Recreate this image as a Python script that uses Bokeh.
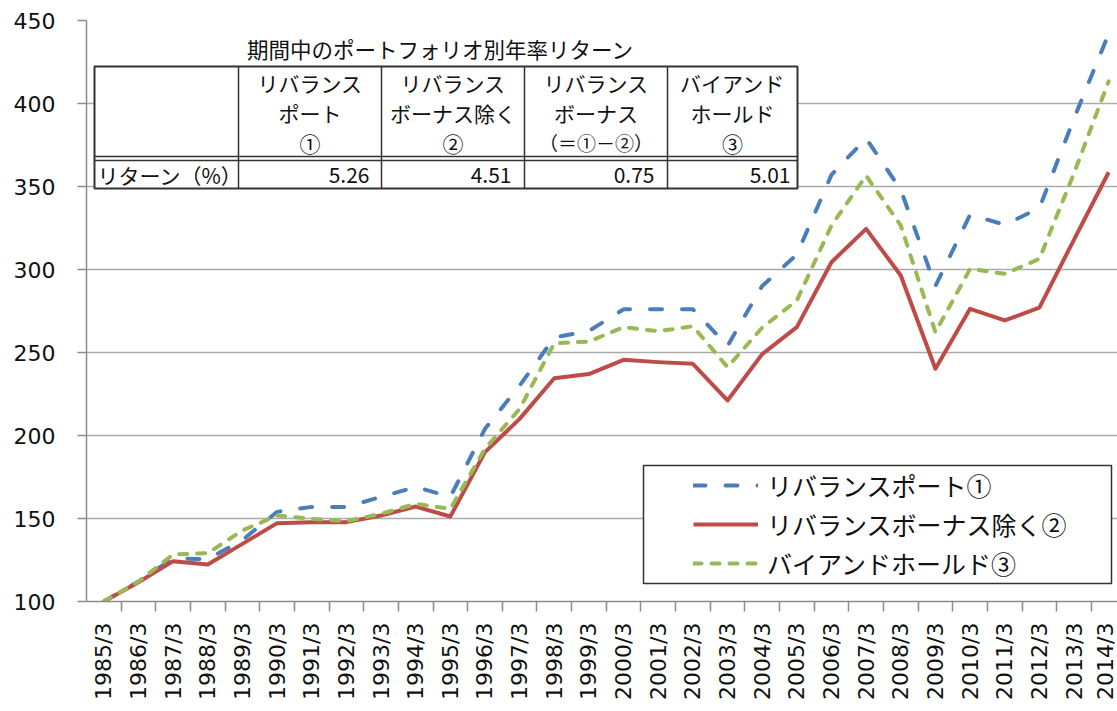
import math
from bokeh.plotting import figure
from bokeh.models import FixedTicker, Label, Legend, LegendItem, Range1d
from bokeh.embed import file_html
from bokeh.resources import INLINE

# ---------------- data ----------------
years = ["1985/3", "1986/3", "1987/3", "1988/3", "1989/3", "1990/3", "1991/3",
         "1992/3", "1993/3", "1994/3", "1995/3", "1996/3", "1997/3", "1998/3",
         "1999/3", "2000/3", "2001/3", "2002/3", "2003/3", "2004/3", "2005/3",
         "2006/3", "2007/3", "2008/3", "2009/3", "2010/3", "2011/3", "2012/3",
         "2013/3", "2014/3"]

rebalance = [100, 112, 126, 125.5, 137, 154, 157, 157, 163, 169, 163, 204, 230,
             259, 263, 276, 276, 276, 254, 290, 309, 357, 379, 348, 290, 333,
             327, 337, 391, 442]

rebalance_ex_bonus = [100, 111.6, 124.3, 122.3, 134.7, 147.2, 147.8, 147.8, 151.8,
                      157.2, 151.2, 190, 210, 234.5, 237, 245.6, 244.2, 243.2, 221.1,
                      249, 265.3, 304.4, 324.5, 296.4, 240.2, 276.3, 269.3, 277, 318,
                      358.6]

buy_and_hold = [100, 112, 128.3, 129.1, 142.8, 151.8, 149.8, 148.4, 152.8, 158.8,
                155.8, 192, 216, 255.6, 256.6, 265.3, 262.8, 265.8, 241.2, 265,
                281.3, 326.5, 356.6, 326.5, 262.2, 300.4, 297.4, 306.4, 358, 413.4]

series_names = ["リバランスポート①", "リバランスボーナス除く②", "バイアンドホールド③"]

y_ticks = [100, 150, 200, 250, 300, 350, 400, 450]

table_title = "期間中のポートフォリオ別年率リターン"
table_headers = [["リバランス", "ポート", "①"],
                 ["リバランス", "ボーナス除く", "②"],
                 ["リバランス", "ボーナス", "（＝①－②）"],
                 ["バイアンド", "ホールド", "③"]]
row_label = "リターン（%）"
returns = ["5.26", "4.51", "0.75", "5.01"]

# ---------------- layout helpers (page px -> data coords) ----------------
FRAME_LEFT = 86.0
CAT_PX = 34.65
FRAME_TOP = 20.0
UNIT_PX = 581.0 / 350.0


def xd(px):
    return -0.5 + (px - FRAME_LEFT) / CAT_PX


def yd(py):
    return 450 - (py - FRAME_TOP) / UNIT_PX


xs = list(range(len(years)))

p = figure(width=1117, height=710, output_backend="svg", toolbar_location=None,
           x_range=Range1d(-0.5, xd(1117)), y_range=Range1d(100, 450),
           min_border_left=86, min_border_right=0, min_border_top=20,
           min_border_bottom=109)
p.outline_line_color = None
p.background_fill_color = "white"
p.border_fill_color = "white"

AX = "#8c8c8c"
# y axis
p.yaxis.ticker = FixedTicker(ticks=y_ticks)
p.yaxis.major_tick_out = 9
p.yaxis.major_tick_in = 0
p.yaxis.minor_tick_out = 0
p.yaxis.minor_tick_in = 0
p.yaxis.axis_line_color = AX
p.yaxis.axis_line_width = 1.5
p.yaxis.major_tick_line_color = AX
p.yaxis.major_tick_line_width = 1.5
p.yaxis.major_label_standoff = 22
p.yaxis.major_label_text_font = "DejaVu Sans"
p.yaxis.major_label_text_font_size = "22px"
p.yaxis.major_label_text_color = "#111111"

# x axis (labels at category centres, ticks between categories)
p.xaxis.ticker = FixedTicker(ticks=xs, minor_ticks=[i + 0.5 for i in xs[:-1]])
p.xaxis.major_label_overrides = {i: years[i] for i in xs}
p.xaxis.major_label_orientation = math.pi / 2
p.xaxis.major_tick_out = 0
p.xaxis.major_tick_in = 0
p.xaxis.minor_tick_out = 10
p.xaxis.minor_tick_in = 0
p.xaxis.minor_tick_line_color = AX
p.xaxis.minor_tick_line_width = 1.5
p.xaxis.axis_line_color = AX
p.xaxis.axis_line_width = 1.5
p.xaxis.major_label_standoff = 11
p.xaxis.major_label_text_font = "DejaVu Sans"
p.xaxis.major_label_text_font_size = "22px"
p.xaxis.major_label_text_color = "#111111"

p.xgrid.visible = False
p.ygrid.grid_line_color = "#ababab"
p.ygrid.grid_line_width = 1.5

# ---------------- table ----------------
t_left, t_right, t_top, t_bottom = 94, 797, 66, 188
col_x = [94, 238, 381, 524, 667, 797]
p.quad(left=[xd(t_left)], right=[xd(t_right)], top=[yd(t_top)], bottom=[yd(t_bottom)],
       fill_color="white", line_color="#333333", line_width=2)
p.segment(x0=[xd(c) for c in col_x[1:-1]], x1=[xd(c) for c in col_x[1:-1]],
          y0=[yd(t_top)] * 4, y1=[yd(t_bottom)] * 4,
          line_color="#333333", line_width=1.5)
p.segment(x0=[xd(t_left)] * 2, x1=[xd(t_right)] * 2,
          y0=[yd(156), yd(160)], y1=[yd(156), yd(160)],
          line_color="#333333", line_width=1.3)

JP = "Noto Sans CJK JP"
p.add_layout(Label(x=xd(440), y=yd(48), text=table_title, text_align="center",
                   text_baseline="middle", text_font=JP, text_font_size="21.5px",
                   text_color="#111111"))
row_y = [82, 112, 142]
for ci, lines in enumerate(table_headers):
    cx = (col_x[ci + 1] + col_x[ci + 2]) / 2
    for ri, txt in enumerate(lines):
        size = "19px" if txt.startswith("（") else "21px"
        p.add_layout(Label(x=xd(cx), y=yd(row_y[ri]), text=txt, text_align="center",
                           text_baseline="middle", text_font=JP, text_font_size=size,
                           text_color="#111111"))
p.add_layout(Label(x=xd(97), y=yd(174), text=row_label, text_align="left",
                   text_baseline="middle", text_font=JP, text_font_size="21px",
                   text_color="#111111"))
val_right = [369, 511, 654, 790]
for vx, v in zip(val_right, returns):
    p.add_layout(Label(x=xd(vx), y=yd(174), text=v, text_align="right",
                       text_baseline="middle", text_font=JP, text_font_size="21px",
                       text_color="#111111"))

# ---------------- legend box ----------------
p.quad(left=[xd(643)], right=[xd(1111)], top=[yd(465)], bottom=[yd(583)],
       fill_color="white", line_color="#333333", line_width=1.5)

# ---------------- series ----------------
r1 = p.line(xs, rebalance, line_color="#4A7EBB", line_width=4, line_dash="12 20",
            line_cap="round", line_join="round")
r2 = p.line(xs, rebalance_ex_bonus, line_color="#BE4B48", line_width=4,
            line_join="round")
r3 = p.line(xs, buy_and_hold, line_color="#98B954", line_width=4, line_dash="8 10",
            line_cap="round", line_join="round")

legend = Legend(items=[LegendItem(label=series_names[0], renderers=[r1]),
                       LegendItem(label=series_names[1], renderers=[r2]),
                       LegendItem(label=series_names[2], renderers=[r3])],
                location=(607, 19), padding=0, margin=0, spacing=0,
                label_height=39, glyph_height=20, glyph_width=65,
                label_standoff=9, label_text_font=JP,
                label_text_font_size="25px", label_text_color="#111111",
                border_line_alpha=0, background_fill_alpha=0)
p.add_layout(legend, "center")

open("out.html", "w").write(file_html(p, INLINE))
